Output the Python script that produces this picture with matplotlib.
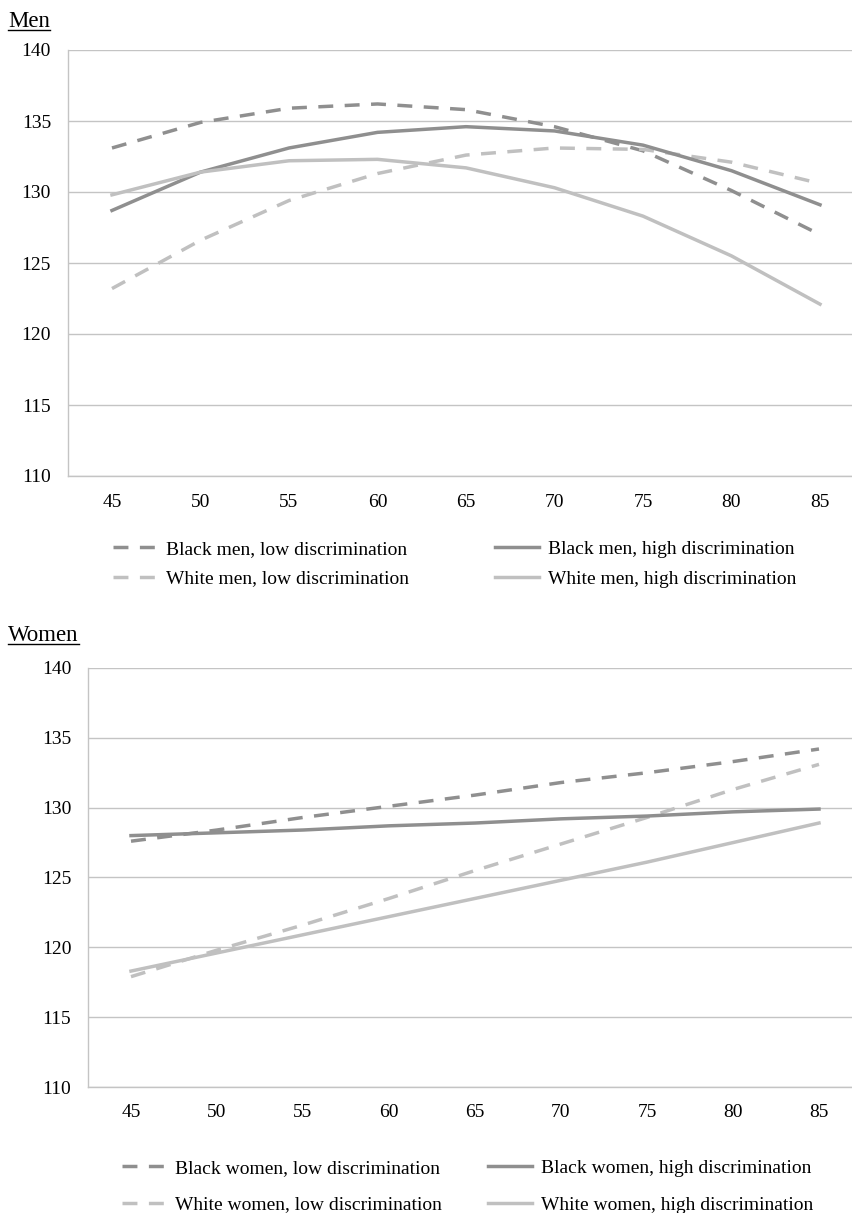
import matplotlib
matplotlib.use("Agg")
import matplotlib.pyplot as plt
from matplotlib.lines import Line2D

plt.rcParams['font.family'] = ['Liberation Serif', 'DejaVu Serif']

# Возраст (годы)
ages = [45, 50, 55, 60, 65, 70, 75, 80, 85]

# Мужчины
black_men_low = [133.1, 134.9, 135.9, 136.2, 135.8, 134.6, 132.9, 130.1, 127.0]
black_men_high = [128.7, 131.4, 133.1, 134.2, 134.6, 134.3, 133.3, 131.5, 129.1]
white_men_low = [123.2, 126.6, 129.4, 131.3, 132.6, 133.1, 133.0, 132.1, 130.6]
white_men_high = [129.8, 131.4, 132.2, 132.3, 131.7, 130.3, 128.3, 125.5, 122.1]

# Женщины
black_women_low = [127.6, 128.4, 129.3, 130.1, 130.9, 131.8, 132.5, 133.3, 134.2]
black_women_high = [128.0, 128.2, 128.4, 128.7, 128.9, 129.2, 129.4, 129.7, 129.9]
white_women_low = [117.9, 119.8, 121.6, 123.5, 125.5, 127.4, 129.3, 131.3, 133.1]
white_women_high = [118.3, 119.6, 120.9, 122.2, 123.5, 124.8, 126.1, 127.5, 128.9]

men_labels = ["Black men, low discrimination", "White men, low discrimination",
              "Black men, high discrimination", "White men, high discrimination"]
women_labels = ["Black women, low discrimination", "White women, low discrimination",
                "Black women, high discrimination", "White women, high discrimination"]

DARK = '#8f8f8f'
LIGHT = '#c0c0c0'
GRID = '#c4c4c4'
LW = 2.5
DASH = (4.3, 3.3)

fig = plt.figure(figsize=(8.52, 12.13), dpi=100)


def setup_axes(ax, xpad):
    ax.set_xlim(42.5, 87.5)
    ax.set_ylim(110, 140)
    ax.set_xticks(ages)
    ax.set_yticks(range(110, 141, 5))
    ax.grid(axis='y', color=GRID, linewidth=1.0)
    ax.set_axisbelow(True)
    for side in ['top', 'right']:
        ax.spines[side].set_visible(False)
    for side in ['left', 'bottom']:
        ax.spines[side].set_color(GRID)
        ax.spines[side].set_linewidth(1.0)
    ax.tick_params(length=0, labelsize=14, colors='black')
    ax.tick_params(axis='x', pad=xpad)
    ax.tick_params(axis='y', pad=12)


def draw_panel(ax, bl, wl, bh, wh):
    h1, = ax.plot(ages, bl, color=DARK, lw=LW, dashes=DASH)
    h2, = ax.plot(ages, wl, color=LIGHT, lw=LW, dashes=DASH)
    h3, = ax.plot(ages, bh, color=DARK, lw=LW)
    h4, = ax.plot(ages, wh, color=LIGHT, lw=LW)
    return [h1, h2, h3, h4]


# Верхняя панель: мужчины
ax1 = fig.add_axes([67.75 / 852, 1 - 476 / 1213, 796.5 / 852, 426 / 1213])
setup_axes(ax1, 13)
handles = draw_panel(ax1, black_men_low, white_men_low, black_men_high, white_men_high)
fig.legend(handles, men_labels, ncol=2, frameon=False, fontsize=14,
           loc='upper left', bbox_to_anchor=(95 / 852, 1 - 523 / 1213),
           handlelength=2.3, handletextpad=0.45, columnspacing=4.4, labelspacing=0.61)

# Нижняя панель: женщины
ax2 = fig.add_axes([88 / 852, 1 - 1087 / 1213, 774 / 852, 419 / 1213])
setup_axes(ax2, 12)
handles = draw_panel(ax2, black_women_low, white_women_low, black_women_high, white_women_high)
fig.legend(handles, women_labels, ncol=2, frameon=False, fontsize=14,
           loc='upper left', bbox_to_anchor=(104 / 852, 1 - 1142 / 1213),
           handlelength=2.3, handletextpad=0.45, columnspacing=2.36, labelspacing=0.97)

# Подчеркнутые заголовки панелей
renderer = fig.canvas.get_renderer()
for title, ypix in [("Men", 27), ("Women", 641)]:
    t = fig.text(8 / 852, 1 - ypix / 1213, title, fontsize=16.5, ha='left', va='baseline')
    bb = t.get_window_extent(renderer=renderer).transformed(fig.transFigure.inverted())
    yline = 1 - (ypix + 3) / 1213
    fig.add_artist(Line2D([bb.x0, bb.x1], [yline, yline], color='black', lw=1.0,
                          transform=fig.transFigure))

fig.savefig("out.png", dpi=100)
